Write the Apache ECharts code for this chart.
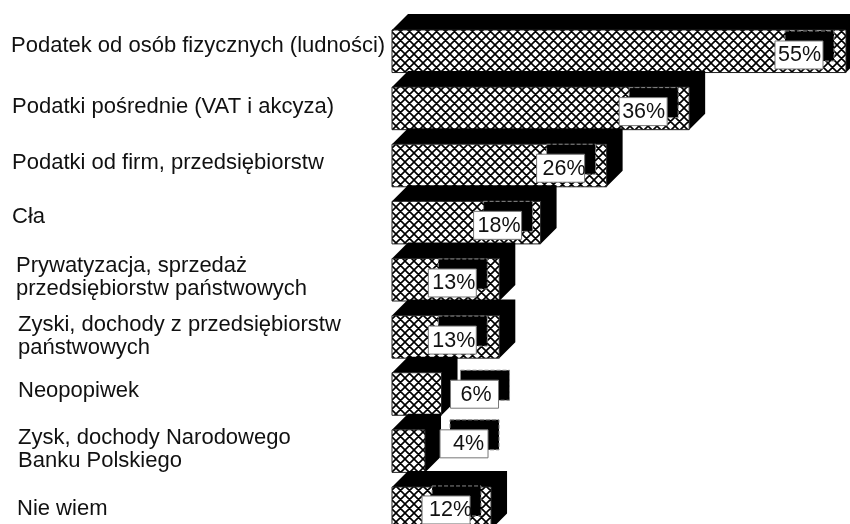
<!DOCTYPE html>
<html><head><meta charset="utf-8">
<style>html,body{margin:0;padding:0;background:#fff}#c{width:850px;height:524px}</style>
<script src="https://cdn.jsdelivr.net/npm/echarts@6/dist/echarts.min.js"></script>
</head><body><div id="c"></div>
<script>
const categories = [
  "Podatek od osób fizycznych (ludności)",
  "Podatki pośrednie (VAT i akcyza)",
  "Podatki od firm, przedsiębiorstw",
  "Cła",
  "Prywatyzacja, sprzedaż\nprzedsiębiorstw państwowych",
  "Zyski, dochody z przedsiębiorstw\npaństwowych",
  "Neopopiwek",
  "Zysk, dochody Narodowego\nBanku Polskiego",
  "Nie wiem"
];
const values = [55, 36, 26, 18, 13, 13, 6, 4, 12];
const valueLabels = ["55%", "36%", "26%", "18%", "13%", "13%", "6%", "4%", "12%"];

// layout tweaks (pixels)
const catTextX = [11, 12, 12, 12, 16, 18, 18, 18, 17];
const catTextDy = [-5.5, -1.6, -2.3, -5.2, -1.9, -0.9, -3.5, -1.7, 0.9];
const boxDx = [-71, -70, -70, -67, -71, -71, 9, 15, -69];
const boxDy = [11, 10.5, 10, 10, 10.5, 10.5, 7.5, 0, 9];
const boxTextDx = [3, 3, 6, 4, 4, 4, 10, 13, 7];
const DEPTH = 16, BOX_W = 48, BOX_H = 28;

function hatch() {
  const p = 9, c = document.createElement('canvas');
  c.width = p; c.height = p;
  const g = c.getContext('2d');
  g.fillStyle = '#fff'; g.fillRect(0, 0, p, p);
  g.strokeStyle = '#000'; g.lineWidth = 1.6;
  g.beginPath();
  for (const d of [-p, 0, p]) {
    g.moveTo(d - 1, -1); g.lineTo(d + p + 1, p + 1);
    g.moveTo(d - 1, p + 1); g.lineTo(d + p + 1, -1);
  }
  g.stroke();
  return c;
}
const pattern = { image: hatch(), repeat: 'repeat' };

function renderItem(params, api) {
  const i = params.dataIndex;
  const end = api.coord([api.value(0), i]);
  const start = api.coord([0, i]);
  const h = api.size([0, 1])[1] * 0.745;
  const l = start[0], r = end[0], t = end[1] - h / 2, b = end[1] + h / 2;
  const bx = r + boxDx[i], by = t + boxDy[i];
  return {
    type: 'group',
    children: [
      { type: 'polygon', shape: { points: [[l, t], [l + DEPTH, t - DEPTH], [r + DEPTH, t - DEPTH], [r + DEPTH, b - DEPTH], [r, b], [r, t]] },
        style: { fill: '#000' } },
      { type: 'rect', shape: { x: l, y: t, width: r - l, height: b - t },
        style: { fill: pattern, stroke: '#222', lineWidth: 1 } },
      { type: 'rect', shape: { x: bx + 10, y: by - 10, width: BOX_W + 1, height: BOX_H + 2 },
        style: { fill: '#000', stroke: '#888', lineWidth: 1, lineDash: [4, 2] } },
      { type: 'rect', shape: { x: bx, y: by, width: BOX_W, height: BOX_H },
        style: { fill: '#fff', stroke: '#777', lineWidth: 1 } },
      { type: 'text', style: { text: valueLabels[i], x: bx + boxTextDx[i], y: by + BOX_H / 2 + 0.5, fill: '#111',
        font: '21.5px "Liberation Sans", Arial, sans-serif', textAlign: 'left', textVerticalAlign: 'middle' } },
      { type: 'text', style: { text: categories[i], x: catTextX[i], y: end[1] + catTextDy[i], fill: '#111',
        font: '22px "Liberation Sans", Arial, sans-serif', lineHeight: 23, textAlign: 'left', textVerticalAlign: 'middle' } }
    ]
  };
}

const chart = echarts.init(document.getElementById('c'), null, { renderer: 'canvas' });
chart.setOption({
  animation: false,
  backgroundColor: '#fff',
  grid: { left: 392, top: 22.7, right: 4, bottom: 0 },
  xAxis: { type: 'value', min: 0, max: 55, show: false },
  yAxis: { type: 'value', inverse: true, min: -0.5, max: 8.276, show: false },
  series: [{
    type: 'custom',
    clip: false,
    renderItem,
    encode: { x: 0, y: 1 },
    data: values.map((v, i) => [v, i])
  }]
});
</script></body></html>
